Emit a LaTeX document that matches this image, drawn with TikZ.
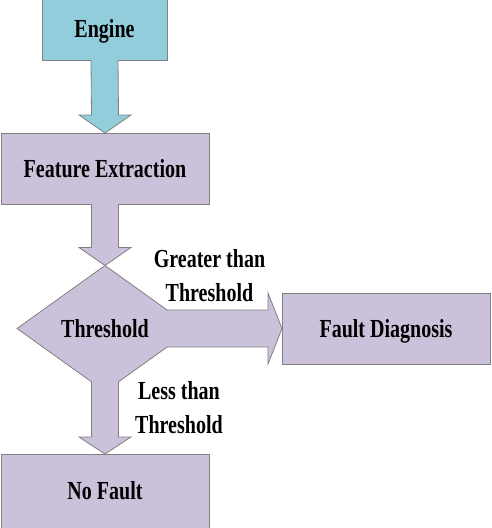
\documentclass[tikz,border=0pt]{standalone}
\usepackage{fontspec}
\setmainfont[FakeStretch=0.77]{Liberation Serif}
\usetikzlibrary{calc,shapes.geometric}
\definecolor{aquafill}{HTML}{92CDDC}
\definecolor{lilac}{HTML}{CCC1DA}
\definecolor{edgegray}{HTML}{808080}
\begin{document}
\begin{tikzpicture}[x=1pt,y=-1pt,
  every node/.style={font=\fontsize{26}{34}\selectfont\bfseries},
  boxbase/.style={draw=edgegray,line width=0.8pt,inner sep=0pt,outer sep=0pt,
    text height=17pt,text depth=0pt},
  box/.style={boxbase,fill=lilac,minimum width=208pt,minimum height=71pt},
  decision/.style={boxbase,fill=lilac,diamond,aspect=1.4,
    minimum width=176pt,minimum height=126pt},
  blockarrow/.style={draw=edgegray,line width=0.8pt,line join=miter},
  lbl/.style={align=center,inner sep=0pt}]
\useasboundingbox (0,0) rectangle (491,528);

\node[boxbase,fill=aquafill,minimum width=125pt,minimum height=62pt] (engine) at (104.5,29) {Engine};
\node[box] (feat) at (105,168.5) {Feature Extraction};
\node[decision] (thr) at (105,328.5) {Threshold};
\node[box] (fault) at (386,328.5) {Fault Diagnosis};
\node[box,minimum height=74pt] (nofault) at (105,491) {No Fault};

% Engine -> Feature Extraction
\filldraw[blockarrow,fill=aquafill]
  ($(engine.south)+(-13.5,0)$) -- ($(feat.north)+(-13.5,-18)$) -- ($(feat.north)+(-26,-18)$)
  -- (feat.north) -- ($(feat.north)+(26,-18)$) -- ($(feat.north)+(13.5,-18)$)
  -- ($(engine.south)+(13.5,0)$);

% Feature Extraction -> Threshold
\filldraw[blockarrow,fill=lilac]
  ($(feat.south)+(-13.5,0)$) -- ($(thr.north)+(-13.5,-18)$) -- ($(thr.north)+(-26,-18)$)
  -- (thr.north) -- ($(thr.north)+(26,-18)$) -- ($(thr.north)+(13.5,-18)$)
  -- ($(feat.south)+(13.5,0)$);

% Threshold -> Fault Diagnosis
\filldraw[blockarrow,fill=lilac]
  ($(thr.east)!0.294!(thr.north)$) -- ($(fault.west)+(-14,-18.5)$) -- ($(fault.north west)+(-14,0)$)
  -- (fault.west) -- ($(fault.south west)+(-14,0)$) -- ($(fault.west)+(-14,18.5)$)
  -- ($(thr.east)!0.294!(thr.south)$);

% Threshold -> No Fault
\filldraw[blockarrow,fill=lilac]
  ($(thr.south)!0.153!(thr.west)$) -- ($(nofault.north)+(-13.5,-17)$) -- ($(nofault.north)+(-26,-17)$)
  -- (nofault.north) -- ($(nofault.north)+(26,-17)$) -- ($(nofault.north)+(13.5,-17)$)
  -- ($(thr.south)!0.153!(thr.east)$);

\node[lbl] (gt) at (209.5,276) {Greater than\\Threshold};
\node[lbl] (lt) at (179,408) {Less than\\Threshold};
\end{tikzpicture}
\end{document}
